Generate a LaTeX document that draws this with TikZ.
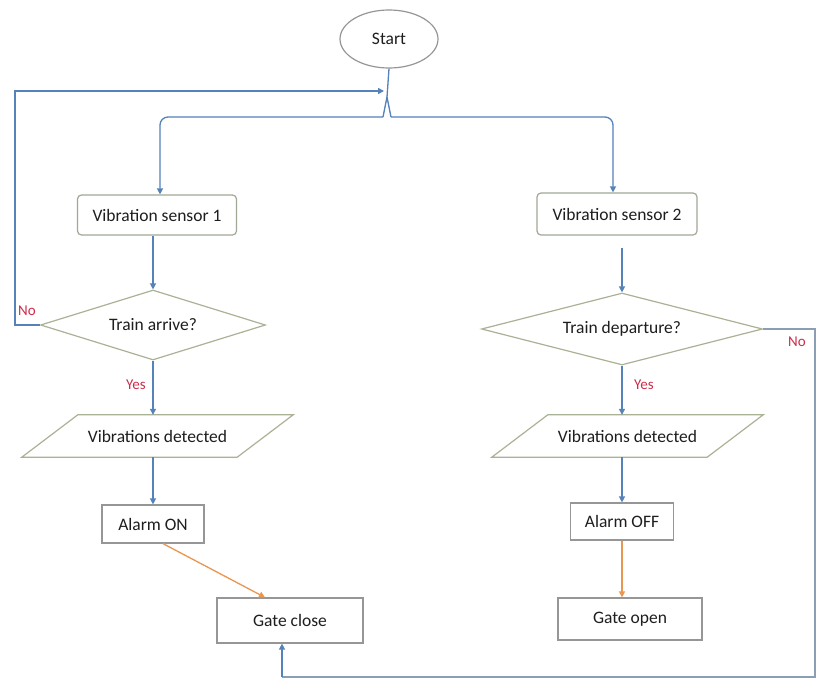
\documentclass[tikz,border=0pt]{standalone}
\usepackage{fontspec}
\setmainfont{Carlito}
\usetikzlibrary{shapes.geometric,arrows.meta,calc}
\definecolor{cblue}{RGB}{84,130,185}
\definecolor{cloop}{RGB}{140,158,180}
\definecolor{boxc}{RGB}{150,150,150}
\definecolor{rboxc}{RGB}{160,168,150}
\definecolor{shapec}{RGB}{170,178,150}
\definecolor{corange}{RGB}{235,150,80}
\definecolor{cred}{RGB}{205,45,75}
\definecolor{textc}{RGB}{30,30,30}
\begin{document}
\begin{tikzpicture}[x=1pt,y=-1pt,
  txt/.style={font=\fontsize{17.5}{20}\selectfont, text=textc},
  box/.style={txt, draw=boxc, line width=1.2pt, rectangle, inner sep=0pt},
  rbox/.style={box, draw=rboxc, rounded corners=4pt},
  dec/.style={txt, draw=shapec, line width=1.2pt, diamond, shape aspect=3.2, inner sep=0pt},
  paratext/.style={txt, rectangle, inner sep=0pt, minimum width=215pt, minimum height=42pt},
  paraline/.style={draw=shapec, line width=1.2pt},
  startnode/.style={txt, draw=boxc, line width=1.2pt, ellipse, inner sep=0pt},
  lbl/.style={font=\fontsize{15}{18}\selectfont, text=cred, inner sep=0pt},
  conn/.style={draw=cblue, line width=1.3pt},
  arr/.style={conn, -{Triangle[width=6pt,length=6pt]}},
  oarr/.style={draw=corange, line width=1.3pt, -{Triangle[width=6pt,length=6pt]}},
]
\useasboundingbox[fill=white] (0,0) rectangle (817,680);

% nodes
\node[startnode, minimum width=98pt, minimum height=58pt] (start) at (389,39) {Start};
\node[rbox, minimum width=159pt, minimum height=40pt] (vs1) at (157,215) {Vibration sensor 1};
\node[dec, minimum width=225pt, minimum height=70pt] (d1) at (153,325) {Train arrive?};
\node[paratext] (p1) at (157.5,436) {Vibrations detected};
\node[box, minimum width=102pt, minimum height=38pt] (aon) at (153,524) {Alarm ON};
\node[box, minimum width=146pt, minimum height=45pt] (gc) at (290,620.5) {Gate close};

\node[rbox, minimum width=160pt, minimum height=42pt] (vs2) at (617,214) {Vibration sensor 2};
\node[dec, minimum width=281pt, minimum height=72pt] (d2) at (622,329) {Train departure?};
\node[paratext] (p2) at (627.5,436) {Vibrations detected};
\node[box, minimum width=103pt, minimum height=37pt] (aoff) at (622,521.5) {Alarm OFF};
\node[box, minimum width=144pt, minimum height=42pt] (go) at (630,619) {Gate open};

\node[lbl] (no1) at (27,311) {No};
\node[lbl] (yes1) at (136,385) {Yes};
\node[lbl] (no2) at (797,342) {No};
\node[lbl] (yes2) at (644,385) {Yes};

% parallelogram outlines
\foreach \p in {p1,p2}{
  \draw[paraline] ($(\p.south west)+(-28,0)$) -- ($(\p.south east)+(-28,0)$)
     -- ($(\p.north east)+(28,0)$) -- ($(\p.north west)+(28,0)$) -- cycle;
}

% helper coordinates
\coordinate (fork) at (387,97);
\coordinate (forkL) at (383,117);
\coordinate (forkR) at (391,117);
\coordinate (loopin) at (384,91);
\coordinate (loopx) at (15,91);
\coordinate (rb) at (815,677);

% top split
\draw[conn] (start.south) -- (fork);
\draw[conn] (fork) -- (forkL);
\draw[conn] (fork) -- (forkR);
\draw[arr, rounded corners=8pt] (forkL) -| ($(vs1.north)+(3,0)$);
\draw[arr, rounded corners=8pt] (forkR) -| ($(vs2.north)+(-4,0)$);

% left column
\draw[arr] (vs1.south -| d1.north) -- (d1.north);
\draw[arr] (d1.south) -- (d1.south |- p1.north);
\draw[arr] (aon.north |- p1.south) -- (aon.north);
\draw[oarr] ($(aon.south)+(10,0)$) -- ($(gc.north)+(-25,0)$);

% left loop (No)
\draw[arr] (d1.west) -| (loopx) -- (loopin);

% right column
\draw[arr, shorten <=12pt] (vs2.south -| d2.north) -- (d2.north);
\draw[arr] (d2.south) -- (d2.south |- p2.north);
\draw[arr] (aoff.north |- p2.south) -- (aoff.north);
\draw[oarr] (aoff.south) -- (aoff.south |- go.north);

% right loop (No) back to Gate close
\draw[draw=cloop, line width=1.3pt] (d2.east) -| (rb) -- (rb -| {$(gc.south)+(-8,0)$});
\draw[arr] (rb -| {$(gc.south)+(-8,0)$}) -- ($(gc.south)+(-8,0)$);
\end{tikzpicture}
\end{document}
